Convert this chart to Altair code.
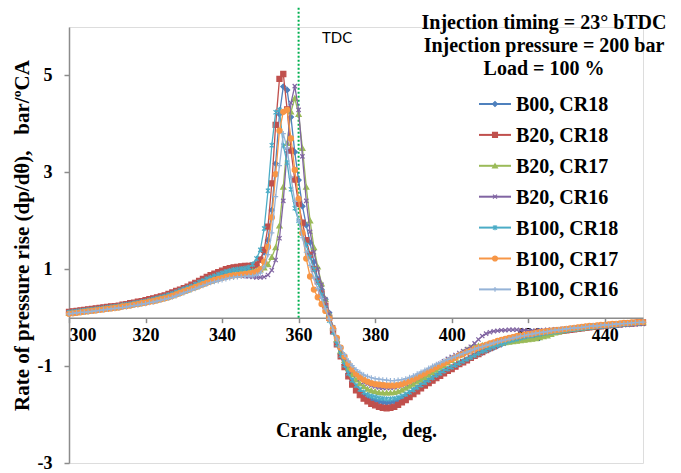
import altair as alt
import pandas as pd

# Crank angle, one reading per degree
crank_angle = list(range(300, 451))

series_names = ["B00, CR18", "B20, CR18", "B20, CR17", "B20, CR16",
                "B100, CR18", "B100, CR17", "B100, CR16"]

rate_b00_cr18 = [
    0.10, 0.11, 0.12, 0.13, 0.14, 0.15, 0.16, 0.17, 0.18, 0.19,
    0.20, 0.21, 0.22, 0.24, 0.25, 0.26, 0.28, 0.29, 0.31, 0.32,
    0.34, 0.35, 0.37, 0.39, 0.41, 0.43, 0.46, 0.49, 0.52, 0.55,
    0.58, 0.61, 0.64, 0.68, 0.71, 0.75, 0.78, 0.81, 0.84, 0.87,
    0.90, 0.93, 0.95, 0.97, 0.98, 0.99, 1.00, 1.01, 1.03, 1.08,
    1.20, 1.35, 1.60, 2.22, 3.18, 4.20, 4.77, 4.70, 4.14, 3.42,
    2.84, 2.30, 1.91, 1.55, 1.15, 0.80, 0.58, 0.38, 0.10, -0.22,
    -0.50, -0.75, -0.96, -1.15, -1.31, -1.43, -1.52, -1.59, -1.64, -1.68,
    -1.71, -1.73, -1.75, -1.76, -1.75, -1.73, -1.70, -1.66, -1.61, -1.56,
    -1.51, -1.45, -1.40, -1.35, -1.30, -1.25, -1.20, -1.15, -1.11, -1.07,
    -1.03, -0.99, -0.95, -0.91, -0.87, -0.83, -0.79, -0.75, -0.72, -0.68,
    -0.65, -0.62, -0.58, -0.55, -0.52, -0.49, -0.46, -0.44, -0.42, -0.40,
    -0.38, -0.37, -0.35, -0.34, -0.33, -0.31, -0.30, -0.29, -0.28, -0.27,
    -0.26, -0.25, -0.24, -0.23, -0.22, -0.21, -0.20, -0.19, -0.18, -0.18,
    -0.17, -0.16, -0.15, -0.15, -0.14, -0.13, -0.13, -0.12, -0.11, -0.11,
    -0.10,
]

rate_b20_cr18 = [
    0.12, 0.13, 0.14, 0.15, 0.16, 0.17, 0.18, 0.19, 0.20, 0.21,
    0.22, 0.23, 0.24, 0.25, 0.27, 0.28, 0.30, 0.31, 0.33, 0.34,
    0.36, 0.38, 0.40, 0.42, 0.44, 0.46, 0.49, 0.52, 0.55, 0.58,
    0.61, 0.64, 0.68, 0.72, 0.76, 0.80, 0.84, 0.88, 0.91, 0.94,
    0.97, 1.00, 1.02, 1.04, 1.05, 1.06, 1.07, 1.07, 1.08, 1.10,
    1.20, 1.40, 1.88, 2.77, 3.98, 4.93, 5.03, 4.30, 3.45, 2.85,
    2.35, 1.96, 1.60, 1.30, 1.00, 0.75, 0.50, 0.25, 0.00, -0.28,
    -0.55, -0.80, -1.02, -1.21, -1.38, -1.50, -1.60, -1.67, -1.73, -1.78,
    -1.81, -1.84, -1.86, -1.87, -1.86, -1.84, -1.80, -1.75, -1.70, -1.64,
    -1.58, -1.52, -1.46, -1.40, -1.35, -1.30, -1.25, -1.20, -1.15, -1.10,
    -1.06, -1.01, -0.96, -0.92, -0.88, -0.83, -0.79, -0.75, -0.71, -0.67,
    -0.63, -0.59, -0.55, -0.52, -0.49, -0.46, -0.44, -0.42, -0.40, -0.39,
    -0.37, -0.36, -0.35, -0.33, -0.32, -0.31, -0.30, -0.29, -0.28, -0.27,
    -0.26, -0.25, -0.24, -0.23, -0.22, -0.21, -0.20, -0.19, -0.18, -0.18,
    -0.17, -0.16, -0.15, -0.14, -0.14, -0.13, -0.12, -0.12, -0.11, -0.10,
    -0.10,
]

rate_b20_cr17 = [
    0.09, 0.10, 0.11, 0.12, 0.13, 0.14, 0.15, 0.16, 0.17, 0.18,
    0.19, 0.20, 0.21, 0.22, 0.24, 0.25, 0.26, 0.28, 0.29, 0.31,
    0.32, 0.34, 0.35, 0.37, 0.39, 0.41, 0.44, 0.46, 0.49, 0.52,
    0.55, 0.58, 0.61, 0.64, 0.67, 0.70, 0.73, 0.76, 0.79, 0.82,
    0.85, 0.87, 0.89, 0.91, 0.92, 0.93, 0.94, 0.95, 0.96, 0.97,
    0.99, 1.03, 1.10, 1.25, 1.45, 1.90, 2.70, 3.60, 4.25, 4.53,
    4.20, 3.50, 2.70, 2.00, 1.45, 1.05, 0.70, 0.38, 0.08, -0.20,
    -0.45, -0.68, -0.88, -1.04, -1.17, -1.28, -1.36, -1.42, -1.47, -1.50,
    -1.52, -1.54, -1.55, -1.55, -1.55, -1.54, -1.52, -1.49, -1.45, -1.41,
    -1.37, -1.32, -1.28, -1.23, -1.18, -1.13, -1.08, -1.03, -0.98, -0.93,
    -0.88, -0.83, -0.77, -0.71, -0.66, -0.62, -0.60, -0.58, -0.57, -0.56,
    -0.55, -0.54, -0.53, -0.52, -0.51, -0.50, -0.49, -0.48, -0.47, -0.46,
    -0.45, -0.44, -0.43, -0.41, -0.39, -0.37, -0.34, -0.31, -0.29, -0.27,
    -0.25, -0.24, -0.23, -0.22, -0.21, -0.20, -0.19, -0.18, -0.17, -0.16,
    -0.16, -0.15, -0.15, -0.14, -0.13, -0.13, -0.12, -0.11, -0.11, -0.10,
    -0.10,
]

rate_b20_cr16 = [
    0.10, 0.11, 0.12, 0.13, 0.14, 0.15, 0.16, 0.17, 0.18, 0.19,
    0.20, 0.21, 0.22, 0.23, 0.24, 0.25, 0.27, 0.28, 0.30, 0.31,
    0.33, 0.34, 0.36, 0.38, 0.40, 0.42, 0.44, 0.47, 0.50, 0.53,
    0.56, 0.59, 0.62, 0.65, 0.68, 0.71, 0.74, 0.77, 0.79, 0.81,
    0.83, 0.85, 0.86, 0.87, 0.87, 0.87, 0.86, 0.85, 0.84, 0.83,
    0.83, 0.84, 0.88, 0.98, 1.19, 1.64, 2.41, 3.45, 4.43, 4.78,
    4.29, 3.33, 2.41, 1.77, 1.35, 1.00, 0.68, 0.38, 0.08, -0.20,
    -0.44, -0.65, -0.83, -0.98, -1.10, -1.19, -1.27, -1.33, -1.37, -1.40,
    -1.42, -1.44, -1.45, -1.45, -1.45, -1.44, -1.42, -1.40, -1.37, -1.33,
    -1.29, -1.25, -1.20, -1.15, -1.10, -1.05, -1.00, -0.95, -0.90, -0.85,
    -0.81, -0.77, -0.73, -0.69, -0.65, -0.60, -0.53, -0.45, -0.38, -0.33,
    -0.30, -0.28, -0.27, -0.26, -0.26, -0.25, -0.25, -0.25, -0.26, -0.26,
    -0.27, -0.27, -0.27, -0.26, -0.26, -0.25, -0.25, -0.24, -0.24, -0.23,
    -0.23, -0.22, -0.22, -0.21, -0.21, -0.20, -0.20, -0.19, -0.19, -0.18,
    -0.18, -0.17, -0.17, -0.16, -0.16, -0.15, -0.15, -0.14, -0.14, -0.13,
    -0.13,
]

rate_b100_cr18 = [
    0.11, 0.12, 0.13, 0.14, 0.15, 0.16, 0.17, 0.18, 0.19, 0.20,
    0.21, 0.22, 0.23, 0.24, 0.26, 0.27, 0.28, 0.30, 0.31, 0.33,
    0.34, 0.36, 0.38, 0.40, 0.42, 0.44, 0.47, 0.50, 0.53, 0.56,
    0.59, 0.62, 0.65, 0.69, 0.73, 0.76, 0.80, 0.83, 0.86, 0.89,
    0.92, 0.95, 0.97, 0.99, 1.00, 1.01, 1.02, 1.04, 1.10, 1.22,
    1.40, 1.84, 2.62, 3.56, 4.24, 4.29, 3.55, 3.20, 2.65, 2.26,
    2.00, 1.75, 1.50, 1.25, 1.00, 0.73, 0.47, 0.20, -0.06, -0.30,
    -0.55, -0.78, -0.98, -1.15, -1.29, -1.40, -1.48, -1.54, -1.59, -1.62,
    -1.64, -1.66, -1.67, -1.68, -1.68, -1.67, -1.65, -1.62, -1.58, -1.54,
    -1.49, -1.44, -1.39, -1.34, -1.29, -1.24, -1.19, -1.15, -1.10, -1.06,
    -1.02, -0.98, -0.94, -0.90, -0.86, -0.82, -0.78, -0.74, -0.70, -0.67,
    -0.63, -0.60, -0.57, -0.54, -0.51, -0.48, -0.46, -0.44, -0.42, -0.40,
    -0.38, -0.37, -0.35, -0.34, -0.32, -0.31, -0.30, -0.29, -0.28, -0.27,
    -0.26, -0.25, -0.24, -0.23, -0.22, -0.21, -0.20, -0.19, -0.18, -0.18,
    -0.17, -0.16, -0.15, -0.15, -0.14, -0.13, -0.13, -0.12, -0.11, -0.11,
    -0.10,
]

rate_b100_cr17 = [
    0.08, 0.09, 0.10, 0.11, 0.12, 0.13, 0.14, 0.15, 0.16, 0.17,
    0.18, 0.19, 0.20, 0.21, 0.23, 0.24, 0.25, 0.27, 0.28, 0.30,
    0.31, 0.33, 0.34, 0.36, 0.38, 0.40, 0.42, 0.45, 0.48, 0.51,
    0.54, 0.57, 0.60, 0.63, 0.66, 0.69, 0.72, 0.75, 0.78, 0.80,
    0.82, 0.84, 0.86, 0.87, 0.88, 0.89, 0.90, 0.91, 0.92, 0.95,
    1.00, 1.15, 1.46, 2.07, 2.96, 3.86, 4.25, 4.29, 3.70, 3.05,
    2.45, 1.75, 1.22, 0.85, 0.58, 0.42, 0.28, 0.14, -0.02, -0.22,
    -0.42, -0.62, -0.80, -0.95, -1.07, -1.16, -1.23, -1.28, -1.32, -1.35,
    -1.37, -1.38, -1.39, -1.40, -1.40, -1.40, -1.39, -1.37, -1.34, -1.31,
    -1.27, -1.23, -1.19, -1.15, -1.10, -1.06, -1.02, -0.98, -0.94, -0.90,
    -0.86, -0.82, -0.78, -0.75, -0.71, -0.68, -0.65, -0.62, -0.59, -0.56,
    -0.53, -0.51, -0.48, -0.46, -0.44, -0.42, -0.40, -0.38, -0.37, -0.35,
    -0.34, -0.33, -0.31, -0.30, -0.29, -0.28, -0.27, -0.26, -0.25, -0.24,
    -0.23, -0.22, -0.21, -0.20, -0.19, -0.18, -0.17, -0.17, -0.16, -0.15,
    -0.15, -0.14, -0.13, -0.13, -0.12, -0.11, -0.11, -0.10, -0.10, -0.09,
    -0.09,
]

rate_b100_cr16 = [
    0.08, 0.09, 0.10, 0.11, 0.11, 0.12, 0.13, 0.14, 0.15, 0.16,
    0.17, 0.18, 0.19, 0.20, 0.21, 0.22, 0.24, 0.25, 0.26, 0.28,
    0.29, 0.31, 0.32, 0.34, 0.36, 0.38, 0.40, 0.42, 0.45, 0.48,
    0.51, 0.54, 0.57, 0.60, 0.63, 0.66, 0.69, 0.72, 0.74, 0.76,
    0.78, 0.80, 0.82, 0.83, 0.84, 0.85, 0.85, 0.86, 0.86, 0.88,
    0.92, 1.05, 1.30, 1.75, 2.50, 3.14, 3.80, 3.50, 2.90, 2.40,
    2.00, 1.65, 1.35, 1.08, 0.82, 0.60, 0.40, 0.18, -0.03, -0.25,
    -0.44, -0.61, -0.76, -0.89, -0.99, -1.07, -1.13, -1.18, -1.21, -1.24,
    -1.26, -1.27, -1.28, -1.29, -1.30, -1.30, -1.29, -1.28, -1.26, -1.23,
    -1.20, -1.16, -1.12, -1.08, -1.04, -1.00, -0.96, -0.93, -0.89, -0.86,
    -0.83, -0.80, -0.77, -0.74, -0.71, -0.68, -0.65, -0.62, -0.60, -0.57,
    -0.55, -0.52, -0.50, -0.48, -0.46, -0.44, -0.42, -0.40, -0.38, -0.37,
    -0.35, -0.34, -0.32, -0.31, -0.30, -0.29, -0.27, -0.26, -0.25, -0.24,
    -0.23, -0.22, -0.21, -0.21, -0.20, -0.19, -0.18, -0.17, -0.17, -0.16,
    -0.15, -0.15, -0.14, -0.13, -0.13, -0.12, -0.12, -0.11, -0.10, -0.10,
    -0.09,
]

all_rates = [rate_b00_cr18, rate_b20_cr18, rate_b20_cr17, rate_b20_cr16,
             rate_b100_cr18, rate_b100_cr17, rate_b100_cr16]

x_ticks = [300, 320, 340, 360, 380, 400, 420, 440]
y_ticks = [-3, -1, 1, 3, 5]
tdc_angle = 360
header_lines = ["Injection timing = 23\u00b0 bTDC",
                "Injection pressure = 200 bar",
                "Load = 100 %"]

# Styling
colors = ["#4F81BD", "#C0504D", "#9BBB59", "#8064A2", "#4BACC6", "#F79646", "#95B3D7"]
X_PATH = "M-1,-1L1,1M-1,1L1,-1"
STAR_PATH = "M-1,-1L1,1M-1,1L1,-1M0,-1.3L0,1.3"
PLUS_PATH = "M-1.2,0L1.2,0M0,-1.2L0,1.2"
shapes = ["diamond", "square", "triangle-up", X_PATH, STAR_PATH, "circle", PLUS_PATH]
stroke_only = [False, False, False, True, True, False, True]

SERIF = "Liberation Serif"
W, H = 574, 436
Y_MIN, Y_MAX = -3, 6
axis_offset = -(H - H * (Y_MAX - 0) / (Y_MAX - Y_MIN))

for r in all_rates:
    assert len(r) == len(crank_angle), len(r)

x_enc = alt.X(
    "angle:Q",
    scale=alt.Scale(domain=[300, 450], nice=False, zero=False),
    axis=alt.Axis(
        values=x_ticks, title="Crank angle,\u00a0\u00a0 deg.", offset=axis_offset,
        grid=False, domainColor="#8c8c8c", domainWidth=1.5, tickColor="#8c8c8c",
        tickWidth=1.5, tickSize=5, labelFont=SERIF, labelFontSize=18,
        labelFontWeight="bold", labelColor="black", labelPadding=4,
        titleFont=SERIF, titleFontSize=20, titleFontWeight="bold",
        titleColor="black", titlePadding=76,
    ),
)
y_enc = alt.Y(
    "rate:Q",
    scale=alt.Scale(domain=[Y_MIN, Y_MAX], nice=False, zero=False),
    axis=alt.Axis(
        values=y_ticks, title="Rate of pressure rise (dp/d\u03b8),\u00a0\u00a0 bar/\u00baCA",
        labelExpr="datum.value < 0 ? '-' + abs(datum.value) : datum.label",
        grid=False, domainColor="#8c8c8c", domainWidth=1.5, tickColor="#8c8c8c",
        tickWidth=1.5, tickSize=5, labelFont=SERIF, labelFontSize=18,
        labelFontWeight="bold", labelColor="black", labelPadding=12,
        titleFont=SERIF, titleFontSize=21, titleFontWeight="bold",
        titleColor="black", titleX=-47, titleY=208, titleAngle=270,
        titleAlign="center", titleBaseline="middle",
    ),
)

layers = []

# TDC marker line and label
layers.append(
    alt.Chart(pd.DataFrame({"angle": [tdc_angle]})).mark_rule(
        color="#00B050", strokeWidth=2, strokeDash=[2, 2]
    ).encode(x=alt.X("angle:Q", scale=alt.Scale(domain=[300, 450], nice=False, zero=False)),
             y=alt.datum(0), y2=alt.value(-20))
)
layers.append(
    alt.Chart(pd.DataFrame({"t": ["TDC"]})).mark_text(
        font="Lato", fontSize=15, color="black", align="left", baseline="middle"
    ).encode(x=alt.value(253), y=alt.value(11), text="t:N")
)

# One line-with-markers layer per series
for name, rates, col, shp, hollow in zip(series_names, all_rates, colors, shapes, stroke_only):
    df = pd.DataFrame({"angle": crank_angle, "rate": rates, "series": name})
    base = alt.Chart(df).encode(x=x_enc, y=y_enc)
    layers.append(base.mark_line(color=col, strokeWidth=1.3))
    layers.append(base.mark_point(
        shape=shp, size=26 if not hollow else 18, filled=not hollow,
        color=col, stroke=col, strokeWidth=1.2, opacity=1,
    ))

# Header text block
for i, line in enumerate(header_lines):
    layers.append(
        alt.Chart(pd.DataFrame({"t": [line]})).mark_text(
            font=SERIF, fontSize=20, fontWeight="bold", color="black",
            align="center", baseline="middle"
        ).encode(x=alt.value(475), y=alt.value(-4 + 23 * i), text="t:N")
    )

# Legend: line sample, marker and label for each series
for i, (name, col, shp, hollow) in enumerate(zip(series_names, colors, shapes, stroke_only)):
    yy = 77 + 30.9 * i
    ldf = pd.DataFrame({"t": [name]})
    layers.append(alt.Chart(ldf).mark_rule(color=col, strokeWidth=2).encode(
        x=alt.value(410), x2=alt.value(442), y=alt.value(yy)))
    layers.append(alt.Chart(ldf).mark_point(
        shape=shp, size=24 if not hollow else 16, filled=not hollow,
        color=col, stroke=col, strokeWidth=1.2, opacity=1,
    ).encode(x=alt.value(426), y=alt.value(yy)))
    layers.append(alt.Chart(ldf).mark_text(
        font=SERIF, fontSize=20, fontWeight="bold", color="black",
        align="left", baseline="middle"
    ).encode(x=alt.value(447), y=alt.value(yy + 1), text="t:N"))

chart = alt.layer(*layers).properties(
    width=W, height=H,
    autosize=alt.AutoSizeParams(type="none"),
    padding={"left": 69, "top": 27, "right": 38, "bottom": 10},
).configure_view(stroke=None).configure(background="white")

chart.save("out.html", embed_options={"renderer": "svg", "actions": False})
